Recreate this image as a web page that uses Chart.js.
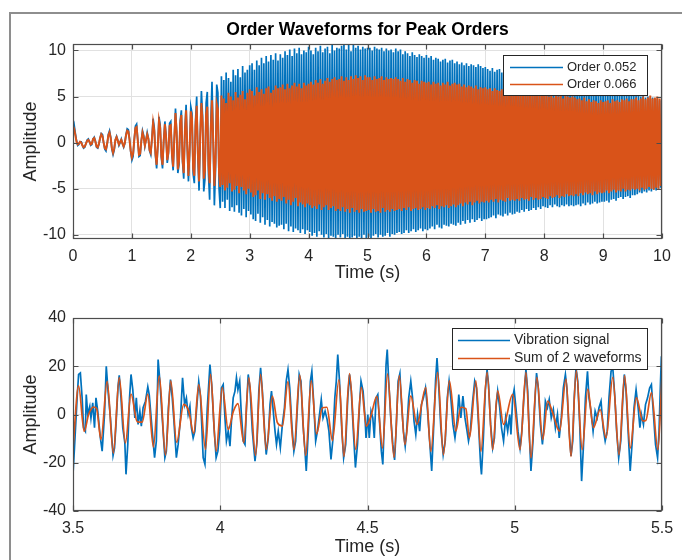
<!DOCTYPE html>
<html>
<head>
<meta charset="utf-8">
<title>Order Waveforms for Peak Orders</title>
<script src="https://cdn.jsdelivr.net/npm/chart.js@4.4.1/dist/chart.umd.min.js"></script>
<style>
  html, body { margin:0; padding:0; background:#ffffff; }
  #page { position:relative; width:682px; height:560px; overflow:hidden; background:#fff; }
  #figFrame { position:absolute; left:9px; top:12px; width:720px; height:600px; border-left:2px solid #8e8e8e; border-top:2px solid #8e8e8e; box-sizing:border-box; }
  .panel { position:absolute; left:0; width:682px; }
  #topPanel { top:0; height:290px; }
  #bottomPanel { top:290px; height:270px; }
  canvas { display:block; }
</style>
</head>
<body>
<div id="page">
  <div id="figFrame"></div>
  <div class="panel" id="topPanel"><canvas id="topChart" width="682" height="290"></canvas></div>
  <div class="panel" id="bottomPanel"><canvas id="bottomChart" width="682" height="270"></canvas></div>
</div>
<script>
// ---------------- DATA ----------------
const topTitle = 'Order Waveforms for Peak Orders';
const topSeriesNames = ['Order 0.052', 'Order 0.066'];
const topSampleStep = 0.02; // seconds between samples, first sample at t = 0
const order052 = [
1.3,1.9,1.0,0.2,-0.3,-0.2,0.1,0.1,-0.3,-0.6,
-0.5,-0.1,0.3,0.4,0.1,-0.3,-0.2,0.4,0.6,0.2,
-0.5,-0.6,-0.2,0.5,1.0,0.9,0.0,-0.7,-0.9,-0.2,
0.9,1.3,0.6,-0.7,-1.3,-0.8,0.3,0.7,0.3,-0.3,
0.0,0.4,-0.1,-0.5,-0.1,0.9,1.5,1.4,0.4,-1.0,
-1.9,-1.5,0.3,1.8,2.0,0.3,-1.5,-1.4,0.2,1.3,
0.8,-0.4,0.3,1.1,0.5,-0.9,-1.3,0.4,2.6,1.6,
-1.4,-2.8,-0.4,2.8,1.9,-1.6,-2.8,0.2,2.3,0.8,
-2.2,-1.2,2.1,2.3,-1.4,-3.0,0.4,3.7,1.2,-3.3,
-2.4,2.4,3.5,-2.1,-3.9,1.4,4.1,-0.5,-4.2,-1.0,
3.9,
3.2,-3.4,-4.4,2.3,5.0,-1.5,-5.2,0.8,5.6,2.9,
-5.3,-4.0,4.3,5.5,-3.4,-6.2,2.2,6.6,0.5,-6.8,
-2.9,6.3,5.4,-5.0,-7.1,
7.2,-6.4,6.8,-7.1,7.6,-6.2,7.0,-7.4,6.6,-7.0,7.9,-7.5,7.3,-6.8,8.0,-7.6,7.1,-7.9,8.3,-7.2,7.6,-8.1,7.9,-7.4,8.4,
-7.8,8.6,-8.3,7.9,-8.5,8.9,-7.7,8.4,-8.7,9.2,-8.1,8.6,-8.9,9.4,-8.4,8.8,-9.1,9.5,-8.6,9.0,-8.8,9.7,-9.2,8.9,-9.0,
9.6,-8.9,9.2,-9.4,9.9,-8.8,9.5,-9.6,10.1,-9.1,9.4,-9.7,10.2,-9.3,9.7,-9.5,10.3,-9.8,9.6,-9.4,10.0,-9.9,9.8,-9.5,10.4,
-9.7,10.0,-10.1,9.6,-9.8,10.3,-10.2,9.9,-9.6,10.5,-10.0,9.8,-10.3,10.2,-9.9,10.4,-10.4,9.7,-10.1,10.6,-10.2,10.0,-10.4,10.3,-10.0,
10.2,-10.3,10.5,-9.9,10.8,-10.4,10.1,-10.2,10.6,-10.5,9.9,-10.3,10.7,-10.1,10.3,-10.4,10.5,-10.2,10.1,-10.5,10.4,-10.0,10.2,-10.4,10.3,
-10.2,10.3,-10.4,10.0,-10.1,10.4,-9.9,10.2,-10.3,10.1,-10.0,10.3,-10.2,9.9,-10.1,10.2,-9.8,10.0,-10.2,10.1,-9.9,9.8,-10.0,10.2,-9.8,
9.9,-9.7,10.1,-9.9,9.6,-9.8,9.9,-9.5,9.7,-9.8,9.4,-9.6,9.8,-9.4,9.5,-9.7,9.3,-9.5,9.6,-9.3,9.4,-9.6,9.2,-9.4,9.5,
-9.5,9.2,-9.3,9.4,-9.1,9.0,-9.4,9.2,-8.9,9.1,-9.2,8.8,-9.3,9.0,-8.9,9.1,-9.0,8.7,-9.1,8.9,-8.8,9.0,-8.9,8.6,-9.0,
8.8,-8.7,8.5,-8.9,8.7,-8.5,8.4,-8.8,8.6,-8.4,8.3,-8.7,8.5,-8.3,8.4,-8.6,8.2,-8.4,8.5,-8.2,8.3,-8.5,8.1,-8.3,8.2,
-8.3,8.0,-8.2,7.8,-8.1,8.1,-7.9,7.7,-8.2,7.9,-7.8,8.0,-7.9,7.6,-8.0,7.8,-7.7,7.5,-7.9,7.7,-7.6,7.8,-7.8,7.5,-7.7,
7.6,-7.5,7.3,-7.6,7.5,-7.3,7.2,-7.5,7.4,-7.2,7.3,-7.4,7.0,-7.3,7.3,-7.1,7.1,-7.3,7.2,-7.0,6.9,-7.2,7.1,-6.9,7.0,
-7.0,6.8,-7.1,6.9,-6.8,6.6,-7.0,6.8,-6.7,6.5,-6.9,6.7,-7.0,6.4,-6.8,6.6,-6.9,6.5,-6.7,6.3,-6.9,6.6,-6.8,6.4,-6.9,
6.4,-6.8,6.2,-6.7,6.3,-6.9,6.1,-6.6,6.2,-6.8,6.0,-6.5,6.1,-6.7,5.9,-6.6,6.0,-6.4,5.8,-6.6,5.9,-6.5,5.7,-6.4,5.8,
-6.4,5.7,-6.3,5.6,-6.5,5.8,-6.2,5.5,-6.1,5.7,-6.3,5.4,-6.0,5.6,-5.9,5.5,-6.1,5.3,-5.9,5.5,-5.8,5.2,-6.0,5.4,-5.7,
5.3,-5.7,5.1,-5.6,5.2,-5.4,5.0,-5.5,5.1,-5.3,4.9,-5.4,5.0,-5.2,4.8,-5.3,4.9,-5.1,4.7,-5.2,4.8,-5.0,4.6,-4.9,1.5
];
const order066 = [
1.8,1.5,0.8,0.1,-0.2,-0.1,0.1,0.0,-0.3,-0.5,
-0.4,-0.1,0.2,0.3,0.1,-0.2,-0.1,0.4,0.5,0.1,
-0.4,-0.5,-0.1,0.5,0.9,0.7,0.0,-0.6,-0.7,-0.1,
0.8,1.1,0.5,-0.6,-1.1,-0.6,0.3,0.6,0.2,-0.2,
0.1,0.3,-0.1,-0.4,0.0,0.8,1.3,1.2,0.3,-0.9,
-1.6,-1.2,0.3,1.6,1.7,0.2,-1.3,-1.2,0.2,1.1,
0.6,-0.3,0.3,0.9,0.4,-0.8,-1.1,0.4,2.2,1.3,
-1.2,-2.4,-0.3,2.4,1.6,-1.4,-2.4,0.2,2.0,0.6,
-1.9,-1.0,1.8,1.9,-1.2,-2.6,0.4,3.2,1.0,-2.9,
-2.0,2.1,3.0,-1.8,-3.3,1.2,3.5,-0.4,-3.6,-0.8,
3.4,
2.6,-2.8,-3.6,1.8,4.0,-1.2,-4.2,0.6,4.3,2.2,
-3.9,-3.0,3.1,3.9,-2.4,-4.4,1.5,4.6,0.3,-4.7,
-2.0,4.2,3.6,-3.3,-4.8,
5.1,-4.6,4.8,-5.2,4.3,-4.9,5.4,-4.4,5.0,-5.3,4.6,-5.1,5.5,-4.7,4.9,-5.5,5.2,-4.8,5.6,-5.2,4.7,-5.6,5.4,-5.0,5.8,
-5.4,5.6,-5.9,5.1,-5.7,6.0,-5.2,5.5,-6.1,5.8,-5.5,5.3,-6.2,5.9,-5.6,6.1,-6.0,5.4,-6.3,5.7,-5.8,6.2,-6.4,5.9,-6.1,
6.0,-6.3,6.3,-5.9,5.8,-6.6,6.4,-6.2,5.9,-6.8,6.2,-6.4,6.5,-6.0,6.1,-6.9,6.4,-6.5,5.9,-6.7,6.5,-7.0,6.2,-6.6,6.4,
-6.8,6.6,-7.1,6.3,-6.9,6.8,-7.2,6.5,-6.7,6.9,-7.3,6.4,-7.0,6.7,-6.8,7.0,-7.3,6.6,-7.1,6.9,-6.9,7.1,-7.4,6.8,-7.2,
6.9,-7.4,7.2,-7.0,6.7,-7.5,7.1,-7.2,6.8,-7.6,7.2,-7.1,6.9,-7.5,7.3,-7.3,7.0,-7.6,7.2,-7.2,6.8,-7.5,7.3,-7.4,7.1,
-7.3,7.1,-7.6,6.8,-7.2,7.2,-7.5,6.9,-7.4,7.0,-7.6,7.2,-7.1,6.8,-7.5,7.1,-7.3,6.9,-7.5,7.0,-7.2,6.9,-7.4,7.1,-7.3,
6.9,-7.2,6.7,-7.4,7.0,-7.1,6.6,-7.3,6.9,-7.0,6.8,-7.4,6.5,-7.2,6.8,-7.1,6.7,-7.3,6.4,-7.2,6.7,-7.0,6.6,-7.3,6.5,
-7.1,6.6,-7.2,6.3,-6.9,6.6,-7.1,6.4,-6.8,6.5,-7.2,6.2,-6.9,6.5,-7.0,6.3,-6.8,6.6,-7.1,6.2,-6.9,6.4,-6.7,6.5,-7.0,
6.3,-6.8,6.4,-6.6,6.1,-6.9,6.3,-6.5,6.0,-6.7,6.2,-6.4,6.1,-6.8,5.9,-6.5,6.2,-6.3,5.8,-6.6,6.0,-6.4,5.9,-6.5,6.0,
-6.3,5.8,-6.5,5.9,-6.2,5.6,-6.4,5.9,-6.1,5.7,-6.5,5.6,-6.2,5.8,-6.3,5.5,-6.4,5.7,-6.0,5.8,-6.3,5.5,-6.2,5.7,-6.3,
5.6,-6.1,5.4,-6.3,5.7,-6.0,5.3,-6.2,5.5,-6.1,5.6,-6.3,5.2,-5.9,5.5,-6.2,5.4,-6.0,5.3,-6.2,5.1,-6.1,5.4,-5.9,5.3,
-6.0,5.2,-6.1,5.0,-5.8,5.3,-6.0,4.9,-5.9,5.2,-5.7,5.0,-6.0,5.1,-5.8,4.8,-5.9,5.1,-5.6,5.0,-5.8,4.9,-5.7,5.0,-5.8,
4.9,-5.6,4.7,-5.8,4.8,-5.5,4.6,-5.7,4.9,-5.4,4.5,-5.6,4.7,-5.5,4.4,-5.7,4.6,-5.3,4.5,-5.6,4.3,-5.4,4.6,-5.5,4.4,
-5.4,4.5,-5.2,4.6,-5.5,4.3,-5.3,4.7,-5.1,4.5,-5.4,4.6,-5.2,4.4,-5.3,4.7,-5.0,4.6,-5.3,4.8,-5.1,4.5,-5.2,4.7,-5.0,
4.7,-5.1,4.9,-5.0,4.6,-5.2,4.8,-4.9,5.0,-5.1,4.7,-5.0,4.9,-4.8,5.1,-5.0,4.8,-5.1,4.9,-4.9,5.0,-5.0,4.8,-4.7,1.0
];
const topXTicks = [0,1,2,3,4,5,6,7,8,9,10];
const topYTicks = [-10,-5,0,5,10];

const bottomSeriesNames = ['Vibration signal', 'Sum of 2 waveforms'];
// [time (s), amplitude]
const vibrationSignal = [
[3.500,-24.8],[3.505,-13.8],[3.514,6.9],[3.519,16.6],[3.525,17.2],[3.531,6.9],[3.536,-5.5],[3.542,-6.9],[3.545,8.3],[3.550,0],
[3.557,3.4],[3.561,-1.4],[3.567,4.8],[3.573,-5.5],[3.578,6.9],[3.584,1.4],[3.593,-9.7],[3.599,-15.2],[3.607,0],[3.613,20],
[3.619,9.7],[3.627,-1.4],[3.636,-17.0],[3.641,-13.8],[3.646,-4.1],[3.653,11.7],[3.657,16.2],[3.663,6.9],[3.669,-5.5],[3.676,-11.7],
[3.680,-24.8],[3.686,-12.4],[3.692,6.9],[3.697,16.6],[3.703,10.3],[3.710,-1.4],[3.715,6.9],[3.721,-4.1],[3.727,1.4],[3.732,-4.8],
[3.738,2.8],[3.746,5.5],[3.754,11.5],[3.759,8.0],[3.769,-6.9],[3.777,-17.9],[3.783,-11],[3.789,22.8],[3.795,13.8],[3.803,-1.4],
[3.812,-17.9],[3.817,-15.2],[3.824,2.8],[3.831,14.5],[3.837,6.9],[3.842,-1.4],[3.851,-17.9],[3.857,-12.4],[3.865,-1.4],[3.872,15.2],
[3.879,4.1],[3.885,6.9],[3.891,0],[3.897,3.4],[3.902,-5.5],[3.908,-9.7],[3.914,-6.9],[3.920,2.8],[3.927,13.5],[3.933,7.6],
[3.942,-17.9],[3.948,-20.6],[3.956,2.8],[3.965,20.7],[3.971,12.4],[3.979,-5.5],[3.986,-17.9],[3.992,-15.2],[3.998,-6.9],[4.004,11],
[4.010,12.4],[4.016,-1.4],[4.021,-11],[4.027,-6.9],[4.033,-13.1],[4.038,-2.8],[4.044,6.9],[4.050,9.7],[4.055,15.2],[4.060,10.3],
[4.066,13.8],[4.071,1.4],[4.078,-11],[4.084,-12.4],[4.089,2.8],[4.095,16.6],[4.101,11],[4.109,-6.9],[4.118,-19.3],[4.125,-11],
[4.131,9.7],[4.137,19.3],[4.143,9.7],[4.150,-5.5],[4.156,-16.6],[4.163,-9.7],[4.169,4.1],[4.174,9.7],[4.180,1.4],[4.186,-6.9],
[4.191,-12.4],[4.197,-6.9],[4.204,-13.8],[4.211,-4.1],[4.218,2.8],[4.224,13.8],[4.230,18.6],[4.236,11],[4.243,-4.1],[4.250,-15.2],
[4.256,-11],[4.263,5.5],[4.268,16.6],[4.274,13.8],[4.281,-4.1],[4.287,-13.8],[4.292,-23.4],[4.299,-6.9],[4.306,13.8],[4.311,17.9],
[4.317,5.5],[4.324,-11],[4.330,-6.9],[4.337,0],[4.343,6.2],[4.349,-1.4],[4.356,1.4],[4.363,-2.1],[4.369,-6.9],[4.376,-18.6],
[4.382,-11],[4.389,6.9],[4.394,13.8],[4.399,24.8],[4.405,13.8],[4.413,-6.9],[4.419,-17.9],[4.426,-12.4],[4.433,6.9],[4.439,16.6],
[4.445,9.7],[4.452,-6.9],[4.459,-22],[4.466,-12.4],[4.473,4.1],[4.478,13.8],[4.485,9.7],[4.491,0],[4.495,-9.7],[4.501,0],
[4.506,-9.7],[4.512,1.4],[4.518,-1.4],[4.523,-9.7],[4.529,6.9],[4.535,8.3],[4.540,-1.4],[4.547,-15.2],[4.552,-20.7],[4.558,0],
[4.563,20.7],[4.567,26.9],[4.572,13.8],[4.579,-1.4],[4.586,-12.4],[4.592,-18.8],[4.597,-6.9],[4.604,13.8],[4.610,17.0],[4.615,5.5],
[4.622,-6.9],[4.628,-13.1],[4.633,-6.9],[4.640,6.9],[4.647,13.8],[4.653,6.9],[4.658,-2.8],[4.664,-8.3],[4.670,0],[4.677,-6.9],
[4.683,4.1],[4.690,6.9],[4.697,11],[4.704,1.4],[4.711,-11],[4.718,-23.4],[4.724,-6.9],[4.731,13.8],[4.736,23.4],[4.741,13.8],
[4.749,-5.5],[4.757,-16.6],[4.764,-11],[4.771,6.9],[4.777,13.8],[4.783,6.9],[4.790,-4.1],[4.797,-9.7],[4.804,-2.8],[4.810,8.3],
[4.817,-1.4],[4.824,7.6],[4.831,-1.4],[4.838,-6.9],[4.843,-11],[4.849,-6.9],[4.857,5.5],[4.864,13.8],[4.870,11],[4.877,-4.1],
[4.884,-20.7],[4.887,-24.8],[4.893,-11],[4.900,9.7],[4.906,18.6],[4.911,12.4],[4.918,-4.1],[4.925,-13.8],[4.931,-9.7],[4.936,2.8],
[4.942,9.7],[4.949,2.8],[4.955,-5.5],[4.962,-11],[4.969,-1.4],[4.976,-6.9],[4.983,0],[4.987,-8.3],[4.993,6.9],[4.998,10.3],
[5.004,2.8],[5.011,-6.9],[5.018,-13.8],[5.024,-6.9],[5.031,6.9],[5.038,18.6],[5.044,9.7],[5.049,-6.9],[5.055,-23.4],[5.062,-11],
[5.069,6.9],[5.074,17.2],[5.080,11],[5.087,-4.1],[5.094,-12.4],[5.099,-5.5],[5.104,5.5],[5.111,2.8],[5.117,6.2],[5.124,-1.4],
[5.131,2.1],[5.138,-5.5],[5.145,0],[5.151,-9.7],[5.158,-1.4],[5.165,11],[5.172,16.6],[5.177,11],[5.184,-5.5],[5.191,-17.2],
[5.197,-11],[5.202,6.9],[5.208,19.3],[5.214,13.8],[5.221,-5.5],[5.227,-27.6],[5.233,-13.8],[5.240,6.9],[5.247,17.9],[5.252,6.9],
[5.259,1.4],[5.266,-6.9],[5.273,1.4],[5.280,-1.4],[5.286,2.8],[5.293,5.5],[5.300,-5.5],[5.307,-11],[5.314,-6.9],[5.320,6.9],
[5.327,17.9],[5.333,19.3],[5.340,6.9],[5.346,-6.9],[5.353,-17.9],[5.360,-11],[5.367,6.9],[5.372,16.6],[5.378,9.7],[5.385,-6.9],
[5.392,-23.4],[5.399,-11],[5.405,2.8],[5.412,10.3],[5.419,2.8],[5.425,-5.5],[5.430,0],[5.437,-4.1],[5.444,4.1],[5.451,6.9],
[5.458,11],[5.464,12.4],[5.471,0],[5.478,-12.4],[5.485,-17.9],[5.490,-6.9],[5.495,13.8],[5.498,24.1],[5.500,2.8]
];
const sumOfWaveforms = [
[3.500,-14.0],[3.519,11.9],[3.538,-7.0],[3.553,0.0],[3.570,3.1],[3.580,2.5],[3.595,-10.4],[3.616,13.7],[3.637,-16.0],[3.657,15.3],
[3.678,-11.8],[3.697,8.5],[3.718,-3.0],[3.735,-3.2],[3.754,8.5],[3.773,-13.5],[3.793,16.0],[3.814,-16.8],[3.832,14.0],[3.852,-11.5],
[3.876,4.2],[3.893,1.4],[3.910,-7.8],[3.927,12.4],[3.950,-14.5],[3.967,16.6],[3.986,-15.2],[4.007,11.2],[4.027,-6.2],[4.045,1.5],
[4.060,4.5],[4.080,-11.7],[4.097,15.2],[4.120,-17.0],[4.137,16.6],[4.156,-14.5],[4.177,7.6],[4.194,-3.4],[4.211,-4.8],[4.230,13.6],
[4.250,-14.5],[4.270,16.4],[4.290,-17.0],[4.309,14.0],[4.327,-8.0],[4.347,2.8],[4.362,3.0],[4.381,-10.8],[4.403,14.4],[4.420,-17.4],
[4.439,17.0],[4.460,-14.5],[4.479,11.3],[4.496,-4.8],[4.510,-1.3],[4.532,7.5],[4.551,-13.9],[4.568,16.8],[4.590,-17.8],[4.608,16.1],
[4.627,-12.5],[4.647,7.7],[4.668,-4.1],[4.698,11.2],[4.715,-15.3],[4.738,17.5],[4.758,-16.7],[4.778,14.0],[4.800,-6.9],[4.817,3.0],
[4.834,2.4],[4.846,-9.7],[4.868,14.0],[4.885,-15.3],[4.906,17.5],[4.925,-14.6],[4.942,9.8],[4.962,-4.1],[4.993,8.4],[5.018,-14.6],
[5.038,17.5],[5.055,-18.0],[5.075,15.4],[5.095,-10.4],[5.112,5.6],[5.128,1.0],[5.152,-6.9],[5.174,14.7],[5.191,-17.4],[5.209,18.2],
[5.229,-14.6],[5.248,10.5],[5.267,-5.5],[5.290,2.0],[5.310,-9.7],[5.333,15.4],[5.354,-16.7],[5.373,16.1],[5.392,-13.9],[5.413,7.0],
[5.435,-2.7],[5.445,-2.5],[5.464,9.1],[5.486,-14.6],[5.500,16.0]
];
const bottomXTicks = [3.5,4,4.5,5,5.5];
const bottomYTicks = [-40,-20,0,20,40];
const axisLabelX = 'Time (s)';
const axisLabelY = 'Amplitude';

// ---------------- STYLE ----------------
const FONT = "'Liberation Sans', Arial, Helvetica, sans-serif";
const TEXT = '#262626';
const BLUE = '#0072BD';
const ORANGE = '#D95319';
const GRID = '#e1e1e1';

const toPoints = (vals) => vals.map((v, i) => ({ x: +(i * topSampleStep).toFixed(2), y: v }));
const pairsToPoints = (pairs) => pairs.map(p => ({ x: p[0], y: p[1] }));

// MATLAB-like axes box with inward ticks
const axesBox = {
  id: 'axesBox',
  afterDatasetsDraw(chart) {
    const { ctx, chartArea: a } = chart;
    const xs = chart.scales.x, ys = chart.scales.y;
    const L = Math.round(a.left) + 0.5, R = Math.round(a.right) - 0.5;
    const T = Math.round(a.top) + 0.5, B = Math.round(a.bottom) - 0.5;
    const tl = 5;
    ctx.save();
    ctx.strokeStyle = '#4d4d4d';
    ctx.lineWidth = 1.2;
    ctx.beginPath();
    xs.ticks.forEach(t => {
      const p = Math.round(xs.getPixelForValue(t.value)) + 0.5;
      ctx.moveTo(p, B); ctx.lineTo(p, B - tl);
      ctx.moveTo(p, T); ctx.lineTo(p, T + tl);
    });
    ys.ticks.forEach(t => {
      const p = Math.round(ys.getPixelForValue(t.value)) + 0.5;
      ctx.moveTo(L, p); ctx.lineTo(L + tl, p);
      ctx.moveTo(R, p); ctx.lineTo(R - tl, p);
    });
    ctx.stroke();
    ctx.strokeRect(L, T, R - L, B - T);
    ctx.restore();
  }
};

// boxed legend inside the axes
const boxLegend = {
  id: 'boxLegend',
  afterDraw(chart, args, o) {
    if (!o || !o.w) return;
    const { ctx } = chart;
    ctx.save();
    ctx.fillStyle = '#ffffff';
    ctx.fillRect(o.x, o.y, o.w, o.h);
    ctx.strokeStyle = '#262626';
    ctx.lineWidth = 1;
    ctx.strokeRect(o.x + 0.5, o.y + 0.5, o.w, o.h);
    ctx.font = o.fontSize + 'px ' + FONT;
    ctx.textBaseline = 'middle';
    ctx.textAlign = 'left';
    chart.data.datasets.forEach((ds, i) => {
      const yy = Math.round(o.y + o.firstRow + i * o.rowGap) + 0.5;
      ctx.strokeStyle = ds.borderColor;
      ctx.lineWidth = o.lineWidth;
      ctx.beginPath();
      ctx.moveTo(o.x + o.lineStart, yy);
      ctx.lineTo(o.x + o.lineStart + o.lineLen, yy);
      ctx.stroke();
      ctx.fillStyle = TEXT;
      ctx.fillText(ds.label, o.x + o.textStart, yy);
    });
    ctx.restore();
  }
};

function makeScales(xr, xTicks, yr, yTicks, xAxisH, xTitlePadBottom) {
  return {
    x: {
      type: 'linear', min: xr[0], max: xr[1],
      afterBuildTicks: s => { s.ticks = xTicks.map(v => ({ value: v })); },
      afterFit: s => { s.height = xAxisH; },
      grid: { color: GRID, lineWidth: 1, drawTicks: false },
      border: { display: false },
      ticks: { autoSkip: false, maxRotation: 0, padding: 8, color: TEXT,
               font: { family: FONT, size: 16 }, callback: v => String(v) },
      title: { display: true, text: axisLabelX, color: TEXT,
               font: { family: FONT, size: 18 }, padding: { top: 0, bottom: xTitlePadBottom } }
    },
    y: {
      type: 'linear', min: yr[0], max: yr[1],
      afterBuildTicks: s => { s.ticks = yTicks.map(v => ({ value: v })); },
      afterFit: s => { s.width = 73; },
      grid: { color: GRID, lineWidth: 1, drawTicks: false },
      border: { display: false },
      ticks: { padding: 7, color: TEXT, font: { family: FONT, size: 16 }, callback: v => String(v) },
      title: { display: true, text: axisLabelY, color: TEXT,
               font: { family: FONT, size: 18 }, padding: { top: 20, bottom: 0 } }
    }
  };
}

Chart.register(axesBox, boxLegend);

// ---------------- TOP CHART ----------------
new Chart(document.getElementById('topChart'), {
  type: 'line',
  data: {
    datasets: [
      { label: topSeriesNames[0], data: toPoints(order052), borderColor: BLUE, backgroundColor: BLUE,
        borderWidth: 1.7, pointRadius: 0, tension: 0, order: 1, clip: 0 },
      { label: topSeriesNames[1], data: toPoints(order066), borderColor: ORANGE, backgroundColor: ORANGE,
        borderWidth: 2, pointRadius: 0, tension: 0, order: 0, clip: 0 }
    ]
  },
  options: {
    responsive: false, animation: false, devicePixelRatio: 1, events: [],
    parsing: false, normalized: true,
    layout: { padding: { left: 0, right: 20, top: 0, bottom: 0 } },
    scales: makeScales([0, 10], topXTicks, [-10.45, 10.7], topYTicks, 51, 6),
    plugins: {
      legend: { display: false },
      tooltip: { enabled: false },
      title: { display: true, text: topTitle, fullSize: false, color: '#000',
               font: { family: FONT, size: 17.5, weight: 'bold' }, padding: { top: 19.5, bottom: 3.5 } },
      boxLegend: { x: 503, y: 55, w: 144, h: 40, firstRow: 11.5, rowGap: 17.6,
                   lineStart: 7, lineLen: 53, textStart: 64, fontSize: 13, lineWidth: 1.5 }
    }
  }
});

// ---------------- BOTTOM CHART ----------------
new Chart(document.getElementById('bottomChart'), {
  type: 'line',
  data: {
    datasets: [
      { label: bottomSeriesNames[0], data: pairsToPoints(vibrationSignal), borderColor: BLUE, backgroundColor: BLUE,
        borderWidth: 1.7, pointRadius: 0, tension: 0, order: 1, clip: 0 },
      { label: bottomSeriesNames[1], data: pairsToPoints(sumOfWaveforms), borderColor: ORANGE, backgroundColor: ORANGE,
        borderWidth: 1.7, pointRadius: 0, cubicInterpolationMode: 'monotone', order: 0, clip: 0 }
    ]
  },
  options: {
    responsive: false, animation: false, devicePixelRatio: 1, events: [],
    parsing: false, normalized: true,
    layout: { padding: { left: 0, right: 20, top: 28, bottom: 0 } },
    scales: makeScales([3.5, 5.5], bottomXTicks, [-40, 40], bottomYTicks, 49, 2),
    plugins: {
      legend: { display: false },
      tooltip: { enabled: false },
      boxLegend: { x: 452, y: 38, w: 195, h: 41, firstRow: 12, rowGap: 17.6,
                   lineStart: 6, lineLen: 52, textStart: 62, fontSize: 14, lineWidth: 1.5 }
    }
  }
});
</script>
</body>
</html>
